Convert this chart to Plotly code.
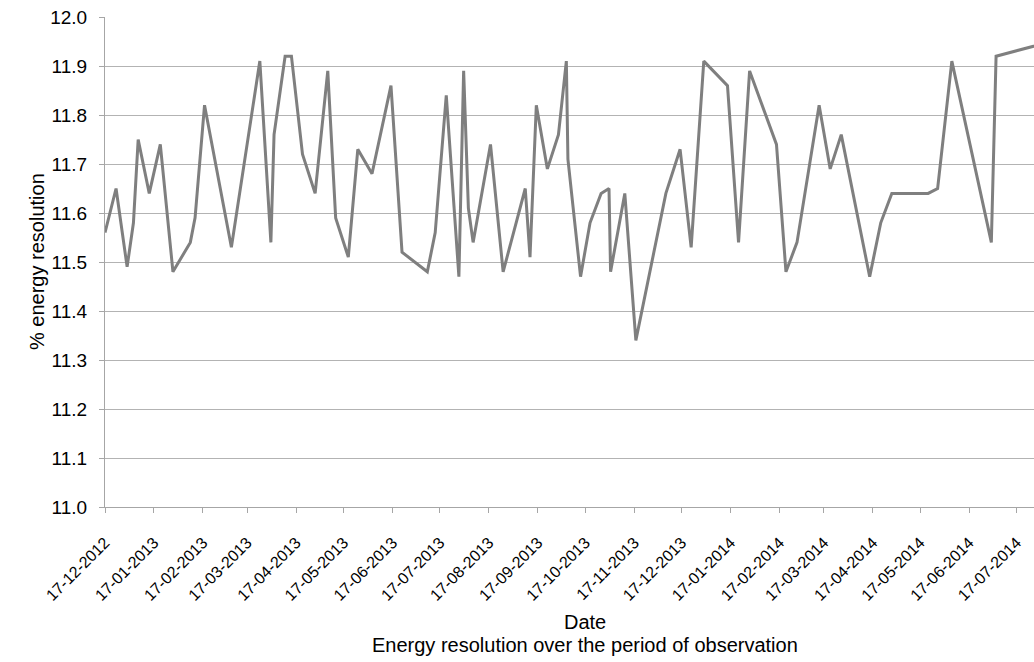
import plotly.graph_objects as go

dates = [
    "2012-12-17", "2012-12-24", "2012-12-31", "2013-01-04", "2013-01-07", "2013-01-14",
    "2013-01-21", "2013-01-29", "2013-02-09", "2013-02-12", "2013-02-18", "2013-03-07",
    "2013-03-25", "2013-04-01", "2013-04-03", "2013-04-10", "2013-04-14", "2013-04-21",
    "2013-04-29", "2013-05-07", "2013-05-12", "2013-05-20", "2013-05-26", "2013-06-04",
    "2013-06-16", "2013-06-23", "2013-07-09", "2013-07-14", "2013-07-21", "2013-07-29",
    "2013-08-01", "2013-08-04", "2013-08-07", "2013-08-18", "2013-08-26", "2013-09-09",
    "2013-09-12", "2013-09-16", "2013-09-23", "2013-09-30", "2013-10-05", "2013-10-06",
    "2013-10-14", "2013-10-20", "2013-10-27", "2013-11-01", "2013-11-02", "2013-11-11",
    "2013-11-18", "2013-12-07", "2013-12-16", "2013-12-23", "2013-12-31", "2014-01-15",
    "2014-01-22", "2014-01-29", "2014-02-15", "2014-02-21", "2014-02-28", "2014-03-14",
    "2014-03-21", "2014-03-28", "2014-04-15", "2014-04-22", "2014-04-29", "2014-05-22",
    "2014-05-28", "2014-06-06", "2014-07-01", "2014-07-04", "2014-08-08",
]
resolution = [
    11.56, 11.65, 11.49, 11.58, 11.75, 11.64,
    11.74, 11.48, 11.54, 11.59, 11.82, 11.53,
    11.91, 11.54, 11.76, 11.92, 11.92, 11.72,
    11.64, 11.89, 11.59, 11.51, 11.73, 11.68,
    11.86, 11.52, 11.48, 11.56, 11.84, 11.47,
    11.89, 11.61, 11.54, 11.74, 11.48, 11.65,
    11.51, 11.82, 11.69, 11.76, 11.91, 11.71,
    11.47, 11.58, 11.64, 11.65, 11.48, 11.64,
    11.34, 11.64, 11.73, 11.53, 11.91, 11.86,
    11.54, 11.89, 11.74, 11.48, 11.54, 11.82,
    11.69, 11.76, 11.47, 11.58, 11.64, 11.64,
    11.65, 11.91, 11.54, 11.92, 11.95,
]
tick_dates = [
    "2012-12-17", "2013-01-17", "2013-02-17", "2013-03-17", "2013-04-17", "2013-05-17",
    "2013-06-17", "2013-07-17", "2013-08-17", "2013-09-17", "2013-10-17", "2013-11-17",
    "2013-12-17", "2014-01-17", "2014-02-17", "2014-03-17", "2014-04-17", "2014-05-17",
    "2014-06-17", "2014-07-17",
]
x_title = "Date"
caption = "Energy resolution over the period of observation"
y_title = "% energy resolution"

FONT = "Liberation Sans, Arial, sans-serif"
W, H = 1034, 662
L, T, B = 105, 17, 155

fig = go.Figure(go.Scatter(
    x=dates, y=resolution, mode="lines",
    line=dict(color="#7f7f7f", width=3),
    hoverinfo="x+y",
))

fig.update_layout(
    width=W, height=H,
    margin=dict(l=L, r=0, t=T, b=B, pad=0),
    plot_bgcolor="white", paper_bgcolor="white",
    showlegend=False,
    font=dict(family=FONT, color="black"),
    xaxis=dict(
        type="date",
        range=["2012-12-17", "2014-07-28"],
        tickvals=tick_dates,
        tickformat="%d-%m-%Y",
        tickangle=-45,
        tickfont=dict(size=16, color="black"),
        ticklabelstandoff=14,
        showgrid=False,
        showline=True, linecolor="#a6a6a6", linewidth=1,
        ticks="outside", ticklen=5, tickcolor="#a6a6a6",
        zeroline=False,
    ),
    yaxis=dict(
        range=[11.0, 12.0],
        dtick=0.1,
        tick0=11.0,
        tickformat=".1f",
        tickfont=dict(size=19, color="black"),
        ticklabelstandoff=8,
        showgrid=True, gridcolor="#b3b3b3", gridwidth=1,
        showline=True, linecolor="#a6a6a6", linewidth=1,
        ticks="outside", ticklen=5, tickcolor="#a6a6a6",
        zeroline=False,
    ),
)

plot_w = W - L
plot_h = H - T - B
cx = (585 - L) / plot_w
fig.add_annotation(text=x_title, xref="paper", yref="paper",
                   x=cx, y=-(622 - (H - B)) / plot_h, xanchor="center", yanchor="middle",
                   showarrow=False, font=dict(size=20, family=FONT, color="black"))
fig.add_annotation(text=caption, xref="paper", yref="paper",
                   x=cx, y=-(645 - (H - B)) / plot_h, xanchor="center", yanchor="middle",
                   showarrow=False, font=dict(size=20, family=FONT, color="black"))
fig.add_annotation(text=y_title, xref="paper", yref="paper",
                   x=-(L - 37) / plot_w, y=0.5, xanchor="center", yanchor="middle",
                   textangle=-90,
                   showarrow=False, font=dict(size=20, family=FONT, color="black"))

fig.write_html("out.html")
